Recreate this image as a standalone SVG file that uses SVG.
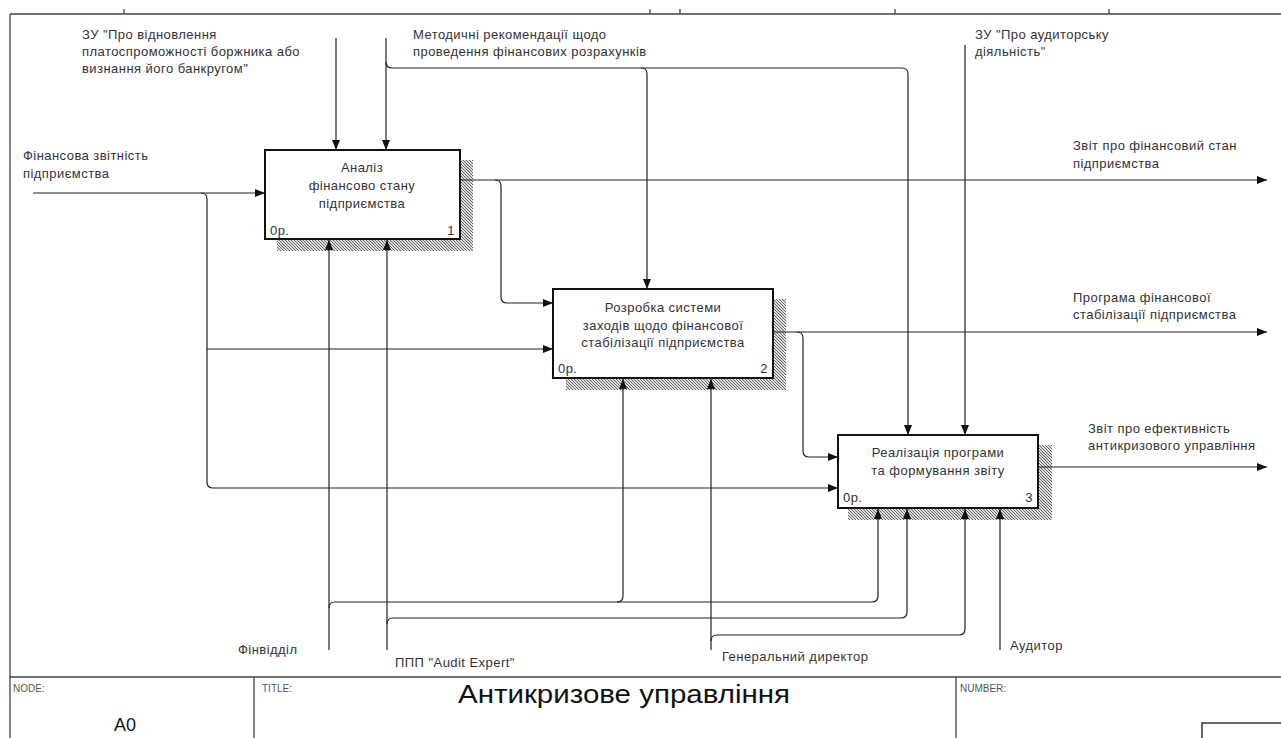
<svg xmlns="http://www.w3.org/2000/svg" width="1281" height="738" viewBox="0 0 1281 738">
<style>
.ln{fill:none;stroke:#222;stroke-width:1.2}
.fr{fill:none;stroke:#444;stroke-width:1.3}
.box{fill:#fff;stroke:#111;stroke-width:2}
.sh{fill:url(#hatch);stroke:none}
.t{font-family:"Liberation Sans",Arial,sans-serif;font-size:13px;fill:#333;letter-spacing:0.45px}
.c{text-anchor:middle}
.e{text-anchor:end}
.sm{font-family:"Liberation Sans",Arial,sans-serif;font-size:10px;fill:#555}
</style>
<defs>
<pattern id="hatch" patternUnits="userSpaceOnUse" width="3" height="3">
<rect width="3" height="3" fill="#ddd"/>
<path d="M-1,-1 L4,4" stroke="#666" stroke-width="1"/>
</pattern>
<marker id="ah" viewBox="0 0 10 8" refX="10" refY="4" markerWidth="10" markerHeight="8" markerUnits="userSpaceOnUse" orient="auto">
<path d="M0,0 L10,4 L0,8 z" fill="#111"/>
</marker>
</defs>
<rect width="1281" height="738" fill="#fff"/>
<g id="frame">
<path class="fr" d="M10,14 H1281 M10,14 V738 M124,9 V14 M650,9 V14 M680,9 V14 M895,9 V14 M1109,9 V14"/>
<path class="fr" d="M10,677 H1281 M254,677 V738 M956,677 V738"/>
<rect x="1202" y="723" width="90" height="30" fill="none" stroke="#333" stroke-width="1.5"/>
<text class="sm" x="13" y="692">NODE:</text>
<text class="sm" x="262" y="692">TITLE:</text>
<text class="sm" x="960" y="692">NUMBER:</text>
<text x="458" y="703" font-family="Liberation Sans,Arial,sans-serif" font-size="25" fill="#111" textLength="332" lengthAdjust="spacingAndGlyphs">Антикризове управління</text>
<text x="125" y="731" text-anchor="middle" font-family="Liberation Sans,Arial,sans-serif" font-size="18" fill="#111">A0</text>
</g>
<g id="labels">
<text class="t" x="82" y="39">ЗУ "Про відновлення</text>
<text class="t" x="82" y="56">платоспроможності боржника або</text>
<text class="t" x="82" y="73">визнання його банкругом"</text>
<text class="t" x="413" y="39">Методичні рекомендації щодо</text>
<text class="t" x="413" y="56">проведення фінансових розрахунків</text>
<text class="t" x="975" y="39">ЗУ "Про аудиторську</text>
<text class="t" x="975" y="56">діяльність"</text>
<text class="t" x="23" y="160">Фінансова звітність</text>
<text class="t" x="23" y="178">підприємства</text>
<text class="t" x="1073" y="150">Звіт про фінансовий стан</text>
<text class="t" x="1073" y="168">підприємства</text>
<text class="t" x="1073" y="302">Програма фінансової</text>
<text class="t" x="1073" y="319">стабілізації підприємства</text>
<text class="t" x="1088" y="433">Звіт про ефективність</text>
<text class="t" x="1088" y="450">антикризового управління</text>
<text class="t" x="238" y="654">Фінвідділ</text>
<text class="t" x="395" y="667">ППП "Audit Expert"</text>
<text class="t" x="722" y="661">Генеральний директор</text>
<text class="t" x="1010" y="650">Аудитор</text>
</g>
<g id="node1">
<path class="sh" d="M460,160 H473 V251 H277 V239 H460 Z"/>
<rect class="box" x="265" y="150" width="195" height="89"/>
<text class="t c" x="362" y="172">Аналіз</text>
<text class="t c" x="362" y="190">фінансово стану</text>
<text class="t c" x="362" y="208">підприємства</text>
<text class="t" x="270" y="235">0р.</text>
<text class="t e" x="455" y="235">1</text>
</g>
<g id="node2">
<path class="sh" d="M773,299 H786 V390 H566 V378 H773 Z"/>
<rect class="box" x="553" y="289" width="220" height="89"/>
<text class="t c" x="663" y="312">Розробка системи</text>
<text class="t c" x="663" y="330">заходів щодо фінансової</text>
<text class="t c" x="663" y="347">стабілізації підприємства</text>
<text class="t" x="558" y="373">0р.</text>
<text class="t e" x="768" y="373">2</text>
</g>
<g id="node3">
<path class="sh" d="M1038,445 H1052 V520 H848 V508 H1038 Z"/>
<rect class="box" x="838" y="435" width="200" height="73"/>
<text class="t c" x="938" y="457">Реалізація програми</text>
<text class="t c" x="938" y="475">та формування звіту</text>
<text class="t" x="843" y="502">0р.</text>
<text class="t e" x="1033" y="502">3</text>
</g>
<g id="connectors">
<path class="ln" d="M33,193 H265" marker-end="url(#ah)"/>
<path class="ln" d="M201,193 Q207,193 207,199 V482 Q207,488 213,488 H838" marker-end="url(#ah)"/>
<path class="ln" d="M207,349 H553" marker-end="url(#ah)"/>
<path class="ln" d="M461,180 H1267" marker-end="url(#ah)"/>
<path class="ln" d="M495,180 Q501,180 501,186 V297 Q501,303 507,303 H553" marker-end="url(#ah)"/>
<path class="ln" d="M774,332 H1267" marker-end="url(#ah)"/>
<path class="ln" d="M797,332 Q803,332 803,338 V451 Q803,457 809,457 H838" marker-end="url(#ah)"/>
<path class="ln" d="M1039,467 H1267" marker-end="url(#ah)"/>
<path class="ln" d="M336,38 V150" marker-end="url(#ah)"/>
<path class="ln" d="M386,38 V150" marker-end="url(#ah)"/>
<path class="ln" d="M386,62 Q386,68 392,68 H902 Q908,68 908,74 V435" marker-end="url(#ah)"/>
<path class="ln" d="M641,68 Q647,68 647,74 V289" marker-end="url(#ah)"/>
<path class="ln" d="M965,45 V435" marker-end="url(#ah)"/>
<path class="ln" d="M329,650 V240" marker-end="url(#ah)"/>
<path class="ln" d="M329,608 Q329,602 335,602 H872 Q878,602 878,596 V509" marker-end="url(#ah)"/>
<path class="ln" d="M617,602 Q623,602 623,596 V379" marker-end="url(#ah)"/>
<path class="ln" d="M387,650 V240" marker-end="url(#ah)"/>
<path class="ln" d="M387,624 Q387,618 393,618 H901 Q907,618 907,612 V509" marker-end="url(#ah)"/>
<path class="ln" d="M711,650 V379" marker-end="url(#ah)"/>
<path class="ln" d="M711,641 Q711,635 717,635 H959 Q965,635 965,629 V509" marker-end="url(#ah)"/>
<path class="ln" d="M1000,650 V509" marker-end="url(#ah)"/>
</g>
</svg>
